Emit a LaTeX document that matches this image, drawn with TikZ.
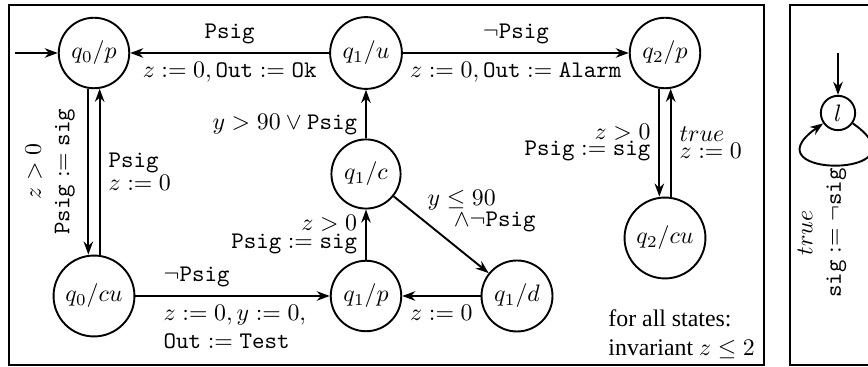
\documentclass[tikz,border=0pt]{standalone}
\usepackage[no-math]{fontspec}
\setmainfont{Liberation Serif}
\setmonofont{Latin Modern Mono}
\usetikzlibrary{arrows.meta,calc}
\begin{document}
\begin{tikzpicture}[x=0.42pt,y=-0.42pt,
  st/.style={draw,circle,line width=0.8pt,inner sep=3pt},
  arr/.style={line width=0.8pt,-{Stealth[length=5.5pt,width=4pt]}},
  frame/.style={draw,line width=0.8pt}]
\useasboundingbox (0,0) rectangle (868,367);
\clip (0,0) rectangle (868,367);
\draw[frame] (9,5) rectangle (764,365);
\draw[frame] (790,5) rectangle (900,365);
% states
\node[st] (q0p) at (94,53) {$q_0/p$};
\node[st] (q1u) at (366,53) {$q_1/u$};
\node[st] (q2p) at (665,53) {$q_2/p$};
\node[st] (q1c) at (366,174) {$q_1/c$};
\node[st] (q0cu) at (94,296) {$q_0/cu$};
\node[st] (q1p) at (366,296) {$q_1/p$};
\node[st] (q1d) at (517,296) {$q_1/d$};
\node[st] (q2cu) at (665,238) {$q_2/cu$};
\node[st,inner sep=2.5pt] (l) at (838,113) {$l$};
\coordinate (init) at (15,53);
\coordinate (linit) at (838,53);
% transitions
\draw[arr] (init) -- (q0p);
\draw[arr] (q1u) -- node[above]{\texttt{Psig}} node[below]{$z:=0,\texttt{Out}:=\texttt{Ok}$} (q0p);
\draw[arr] (q1u) -- node[above]{$\neg\texttt{Psig}$} node[below]{$z:=0,\texttt{Out}:=\texttt{Alarm}$} (q2p);
\draw[arr] (q0p.261) -- node[midway,xshift=-16pt,rotate=90,align=center]{$z>0$\\$\texttt{Psig}:=\texttt{sig}$} (q0p.261 |- q0cu.north);
\draw[arr] (q0cu.north -| q0p.279) -- node[midway,right,align=left]{\texttt{Psig}\\[-2pt]$z:=0$} (q0p.279);
\draw[arr] (q0cu) -- node[pos=0.1,anchor=south west]{$\neg\texttt{Psig}$} node[pos=0.1,anchor=north west,align=left]{$z:=0,y:=0,$\\$\texttt{Out}:=\texttt{Test}$} (q1p);
\draw[arr] (q1d) -- node[below]{$z:=0$} (q1p);
\draw[arr] (q1p) -- node[left,align=right]{$z>0$\\[-4.5pt]$\texttt{Psig}:=\texttt{sig}$} (q1c);
\draw[arr] (q1c) -- node[pos=0.29,left]{$y>90\vee\texttt{Psig}$} (q1u);
\draw[arr] (q1c) -- node[midway,xshift=17pt,yshift=10pt,align=left]{$y\le 90$\\[-3pt]\hspace*{11pt}$\wedge\neg\texttt{Psig}$} (q1d);
\draw[arr] (q2p.261) -- node[left,align=right]{$z>0$\\[-5pt]$\texttt{Psig}:=\texttt{sig}$} (q2p.261 |- q2cu.north);
\draw[arr] (q2cu.north -| q2p.279) -- node[right,align=left]{$true$\\[-5pt]$z:=0$} (q2p.279);
\draw[arr] (linit) -- (l);
\draw[arr] (l.-35) .. controls (932,179) and (744,179) .. (l.-145);
\node[rotate=90,align=center] (loopl) at (822,233) {$true$\\$\texttt{sig}:=\neg\texttt{sig}$};
\node[align=left,anchor=west,inner sep=0pt] (inv) at (608,334) {for all states:\\invariant $z\le 2$};
\end{tikzpicture}
\end{document}
